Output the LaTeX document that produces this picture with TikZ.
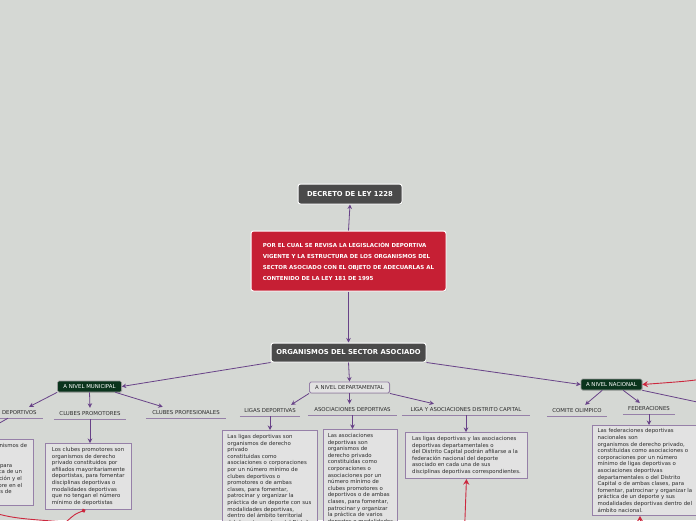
\documentclass[tikz,border=0pt]{standalone}
\usepackage{fontspec}
\setmainfont{DejaVu Sans}
\usetikzlibrary{arrows.meta, calc, positioning, shadows}

\definecolor{mapbg}{RGB}{213,216,212}
\definecolor{topicgray}{RGB}{74,74,74}
\definecolor{topicred}{RGB}{198,31,52}
\definecolor{topicgreen}{RGB}{10,52,28}
\definecolor{linkviolet}{RGB}{104,66,136}
\definecolor{notefill}{RGB}{226,226,226}
\definecolor{noteline}{RGB}{150,128,168}
\definecolor{relred}{RGB}{204,40,62}
\definecolor{inkgray}{RGB}{44,44,44}

\begin{document}
\begin{tikzpicture}[x=1pt,y=-1pt,>={Stealth[length=4.5pt,width=4.5pt]},
  softshadow/.style={drop shadow={shadow xshift=0.8pt, shadow yshift=-0.8pt, opacity=0.25}},
  grayhead/.style={draw=white, line width=1pt, rounded corners=2.5pt, fill=topicgray, text=white, inner sep=0pt, font=\fontsize{6.8}{8}\selectfont\bfseries, softshadow},
  redhead/.style={draw=white, line width=1pt, rounded corners=2.5pt, fill=topicred, text=white, inner sep=0pt, align=left, font=\fontsize{5.5}{11}\selectfont\bfseries, softshadow},
  greenlevel/.style={draw=gray!80, line width=0.6pt, rounded corners=1.5pt, fill=topicgreen, text=white, inner sep=0pt, minimum height=11pt, font=\fontsize{5.4}{6}\selectfont, softshadow},
  notelevel/.style={draw=noteline, line width=0.9pt, rounded corners=1.5pt, fill=notefill, text=inkgray, inner sep=0pt, minimum height=11pt, font=\fontsize{5.4}{6}\selectfont, softshadow},
  branch/.style={inner sep=0pt, minimum height=11pt, text=inkgray, font=\fontsize{5.4}{6}\selectfont},
  underline/.style={draw=noteline, line width=0.8pt},
  note/.style={draw=noteline, line width=0.9pt, fill=notefill, text=inkgray, align=left, anchor=north west, inner xsep=0pt, inner ysep=4pt, font=\fontsize{5.4}{6.6}\selectfont, softshadow},
  link/.style={->, draw=linkviolet, line width=0.8pt},
  relation/.style={-{Stealth[length=5.5pt,width=6pt]}, draw=relred, line width=0.9pt}]
  \useasboundingbox (0,0) rectangle (696,520);
  \fill[mapbg] (0,0) rectangle (696,520);
  \clip (0,0) rectangle (696,520);
  % central topics
  \node[grayhead, minimum width=104pt, minimum height=20pt] (decreto) at (350,194) {DECRETO DE LEY 1228};
  \node[redhead, minimum width=195pt, minimum height=60pt] (objeto) at (348.5,261) {POR EL CUAL SE REVISA LA LEGISLACIÓN DEPORTIVA\\VIGENTE Y LA ESTRUCTURA DE LOS ORGANISMOS DEL\\SECTOR ASOCIADO CON EL OBJETO DE ADECUARLAS AL\\CONTENIDO DE LA LEY 181 DE 1995};
  \node[grayhead, minimum width=155pt, minimum height=19pt] (organismos) at (348.5,352.5) {ORGANISMOS DEL SECTOR ASOCIADO};
  % levels
  \node[greenlevel, minimum width=64pt] (municipal) at (89.5,386.5) {A NIVEL MUNICIPAL};
  \node[notelevel, minimum width=80pt] (departamental) at (349.5,387.5) {A NIVEL DEPARTAMENTAL};
  \node[greenlevel, minimum width=61pt] (nacional) at (611.5,384.5) {A NIVEL NACIONAL};
  % branches
  \node[branch, minimum width=70pt] (clubesdep) at (8,412.5) {CLUBES DEPORTIVOS};
  \node[branch, minimum width=72pt] (clubesprom) at (90,413.5) {CLUBES PROMOTORES};
  \node[branch, minimum width=80pt] (clubesprof) at (186,412.5) {CLUBES PROFESIONALES};
  \node[branch, minimum width=60pt] (ligas) at (270,410.5) {LIGAS DEPORTIVAS};
  \node[branch, minimum width=89pt] (asociaciones) at (352.5,409.5) {ASOCIACIONES DEPORTIVAS};
  \node[branch, minimum width=128pt] (ligadc) at (466,409.5) {LIGA Y ASOCIACIONES DISTRITO CAPITAL};
  \node[branch, minimum width=60pt] (comite) at (577,410.5) {COMITE OLIMPICO};
  \node[branch, minimum width=52pt] (federaciones) at (649,408.5) {FEDERACIONES};
  \foreach \n in {clubesdep,clubesprom,clubesprof,ligas,asociaciones,ligadc,comite,federaciones} \draw[underline] (\n.south west) -- (\n.south east);
  % notes
  \node[note, minimum width=124pt, minimum height=64pt] (depnote) at (-91,439) {Los clubes deportivos son organismos de\\derecho privado\\constituidos por afiliados\\mayoritariamente deportistas, para\\fomentar y patrocinar la práctica de un\\deporte o modalidad, la recreación y el\\aprovechamiento del tiempo libre en el\\municipio e impulsar programas de\\interés público y social.};
  \node[note, minimum width=86pt, minimum height=65pt] (promnote) at (45,443) {Los clubes promotores son\\organismos de derecho\\privado constituidos por\\afiliados mayoritariamente\\deportistas, para fomentar\\disciplinas deportivas o\\modalidades deportivas\\que no tengan el número\\mínimo de deportistas};
  \node[note, minimum width=95pt] (ligasnote) at (222,430) {Las ligas deportivas son\\organismos de derecho\\privado\\constituidas como\\asociaciones o corporaciones\\por un número mínimo de\\clubes deportivos o\\promotores o de ambas\\clases, para fomentar,\\patrocinar y organizar la\\práctica de un deporte con sus\\modalidades deportivas,\\dentro del ámbito territorial\\del departamento o del Distrito};
  \node[note, minimum width=74pt] (asocnote) at (323,429) {Las asociaciones\\deportivas son\\organismos de\\derecho privado\\constituidas como\\corporaciones o\\asociaciones por un\\número mínimo de\\clubes promotores o\\deportivos o de ambas\\clases, para fomentar,\\patrocinar y organizar\\la práctica de varios\\deportes o modalidades};
  \node[note, minimum width=122pt, minimum height=46pt] (dcnote) at (405,432) {Las ligas deportivas y las asociaciones\\deportivas departamentales o\\del Distrito Capital podrán afiliarse a la\\federación nacional del deporte\\asociado en cada una de sus\\disciplinas deportivas correspondientes.};
  \node[note, minimum width=105pt, minimum height=90pt, inner ysep=2pt] (fednote) at (592,425) {Las federaciones deportivas\\nacionales son\\organismos de derecho privado,\\constituidas como asociaciones o\\corporaciones por un número\\mínimo de ligas deportivas o\\asociaciones deportivas\\departamentales o del Distrito\\Capital o de ambas clases, para\\fomentar, patrocinar y organizar la\\práctica de un deporte y sus\\modalidades deportivas dentro del\\ámbito nacional.};
  % hierarchy links
  \draw[link] (objeto.north) -- (decreto.south);
  \draw[link] (objeto.south) -- (organismos.north);
  \draw[link] (organismos.south west) -- (municipal.east);
  \draw[link] (organismos.south) -- (departamental.north);
  \draw[link] (organismos.south east) -- (nacional.west);
  \draw[link] (municipal.south west) -- ($(clubesdep.north)!0.6!(clubesdep.north east)$);
  \draw[link] (municipal.south) -- (clubesprom.north);
  \draw[link] ($(municipal.south)!0.8!(municipal.south east)$) -- ($(clubesprof.north west)!0.42!(clubesprof.north)$);
  \draw[link] (departamental.south west) -- ($(ligas.north)!0.7!(ligas.north east)$);
  \draw[link] (departamental.south) -- (departamental.south |- asociaciones.north);
  \draw[link] (departamental.south east) -- ($(ligadc.north west)!0.5!(ligadc.north)$);
  \draw[link] ($(nacional.south west)!0.7!(nacional.south)$) -- ($(comite.north)!0.27!(comite.north east)$);
  \draw[link] ($(nacional.south)!0.38!(nacional.south east)$) -- ($(federaciones.north west)!0.65!(federaciones.north)$);
  \coordinate (nacionalout) at (730,409);
  \draw[link] (nacional.south east) -- (nacionalout);
  \draw[link] (clubesdep.south) -- (depnote.north);
  \foreach \a/\b in {clubesprom/promnote, ligas/ligasnote, asociaciones/asocnote, ligadc/dcnote, federaciones/fednote} \draw[link] (\a.south) -- (\a.south |- \b.north);
  % relations
  \coordinate (relnac) at (716,377);
  \draw[relation] (relnac) .. controls (690,381) .. (nacional.east);
  \coordinate (reldc) at (464,545);
  \draw[relation] (reldc) -- (dcnote.south);
  \coordinate (relfed) at (640,545);
  \draw[relation] (relfed) -- (relfed |- fednote.south);
  \draw[relation, {Circle[length=4pt]}-{Stealth[length=5.5pt,width=6pt]}] ($(promnote.south)+(-3,0)$) .. controls (75,514) .. (66,522) .. controls (10,518) .. (depnote.south);
\end{tikzpicture}
\end{document}
